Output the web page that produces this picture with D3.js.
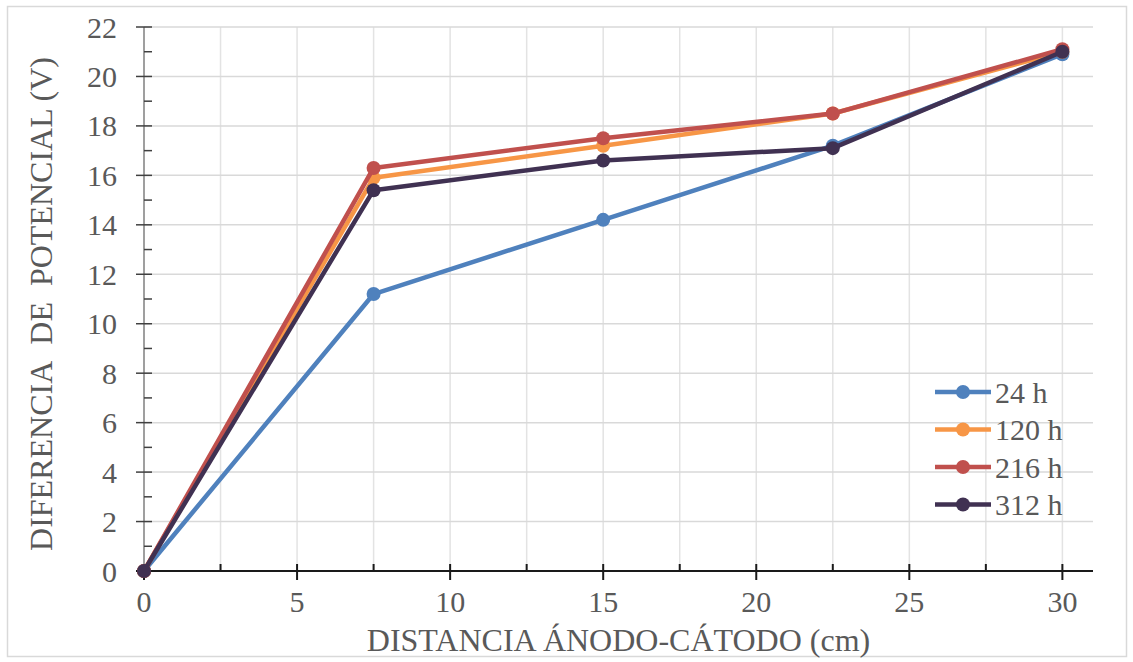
<!DOCTYPE html>
<html>
<head>
<meta charset="utf-8">
<script src="https://cdn.jsdelivr.net/npm/d3@7"></script>
<style>
  html, body { margin: 0; padding: 0; background: #fff; }
  svg { display: block; }
  text { font-family: "Liberation Serif", "Times New Roman", serif; fill: #595959; }
</style>
</head>
<body>
<svg id="chart" width="1133" height="662"></svg>
<script>
// ---- data ----
const distances = [0, 7.5, 15, 22.5, 30];
const seriesNames = ["24 h", "120 h", "216 h", "312 h"];
const v24 = [0, 11.2, 14.2, 17.2, 20.9];
const v120 = [0, 15.9, 17.2, 18.5, 21.0];
const v216 = [0, 16.3, 17.5, 18.5, 21.1];
const v312 = [0, 15.4, 16.6, 17.1, 21.0];
const colors = ["#4f81bd", "#f79646", "#c0504d", "#403152"];
const xTicks = [0, 5, 10, 15, 20, 25, 30];
const yTicks = [0, 2, 4, 6, 8, 10, 12, 14, 16, 18, 20, 22];
const xTitle = "DISTANCIA ÁNODO-CÁTODO (cm)";
const yTitle = "DIFERENCIA\u00a0\u00a0DE\u00a0\u00a0POTENCIAL (V)";

const series = [v24, v120, v216, v312].map((vals, i) => ({
  name: seriesNames[i], color: colors[i],
  pts: distances.map((d, j) => [d, vals[j]])
}));

const svg = d3.select("#chart");
const W = 1133, H = 662;
const m = { left: 144, right: 40, top: 27, bottom: 91 };

// outer border
svg.append("rect").attr("x", 7.5).attr("y", 6.5).attr("width", W - 14).attr("height", H - 12)
  .attr("fill", "#fff").attr("stroke", "#d9d9d9").attr("stroke-width", 1.5);

const x = d3.scaleLinear().domain([0, 31]).range([m.left, W - m.right]);
const y = d3.scaleLinear().domain([0, 22]).range([H - m.bottom, m.top]);

// gridlines
const vGrid = d3.range(2.5, 30.01, 2.5);
svg.append("g").selectAll("line").data(vGrid).join("line")
  .attr("x1", d => x(d)).attr("x2", d => x(d))
  .attr("y1", y(0)).attr("y2", y(22))
  .attr("stroke", "#e3e3e3").attr("stroke-width", 1.5);
svg.append("g").selectAll("line").data(yTicks.filter(d => d > 0)).join("line")
  .attr("x1", x(0)).attr("x2", x(31))
  .attr("y1", d => y(d)).attr("y2", d => y(d))
  .attr("stroke", "#d9d9d9").attr("stroke-width", 1.5);

// y axis
const yAxisG = svg.append("g");
yAxisG.append("line").attr("x1", x(0)).attr("x2", x(0)).attr("y1", y(0)).attr("y2", y(22))
  .attr("stroke", "#7f7f7f").attr("stroke-width", 1.5);
yAxisG.selectAll("line.maj").data(yTicks).join("line").attr("class", "maj")
  .attr("x1", x(0) - 8).attr("x2", x(0) + 8)
  .attr("y1", d => y(d)).attr("y2", d => y(d))
  .attr("stroke", "#404040").attr("stroke-width", 1.5);
yAxisG.selectAll("line.min").data(d3.range(1, 22, 2)).join("line").attr("class", "min")
  .attr("x1", x(0)).attr("x2", x(0) + 8)
  .attr("y1", d => y(d)).attr("y2", d => y(d))
  .attr("stroke", "#404040").attr("stroke-width", 1.5);
yAxisG.selectAll("text").data(yTicks).join("text")
  .attr("x", 117).attr("y", d => y(d)).attr("dy", "0.35em")
  .attr("text-anchor", "end").attr("font-size", 30)
  .text(d => d);

// x axis
const xAxisG = svg.append("g");
xAxisG.append("line").attr("x1", x(0) - 8).attr("x2", x(31)).attr("y1", y(0)).attr("y2", y(0))
  .attr("stroke", "#1a1a1a").attr("stroke-width", 2);
xAxisG.selectAll("line.maj").data(xTicks).join("line").attr("class", "maj")
  .attr("x1", d => x(d)).attr("x2", d => x(d))
  .attr("y1", y(0) - 7).attr("y2", y(0) + 9)
  .attr("stroke", "#1a1a1a").attr("stroke-width", 2);
xAxisG.selectAll("line.min").data(d3.range(2.5, 30, 5)).join("line").attr("class", "min")
  .attr("x1", d => x(d)).attr("x2", d => x(d))
  .attr("y1", y(0) - 7).attr("y2", y(0))
  .attr("stroke", "#1a1a1a").attr("stroke-width", 2);
xAxisG.selectAll("text").data(xTicks).join("text")
  .attr("x", d => x(d)).attr("y", 612)
  .attr("text-anchor", "middle").attr("font-size", 30)
  .text(d => d);

// axis titles
svg.append("text").attr("x", (x(0) + x(31)) / 2).attr("y", 651)
  .attr("text-anchor", "middle").attr("font-size", 32).text(xTitle);
svg.append("text").attr("transform", `translate(52, 304) rotate(-90)`)
  .attr("text-anchor", "middle").attr("font-size", 32).text(yTitle);

// series
const line = d3.line().x(d => x(d[0])).y(d => y(d[1]));
const sg = svg.append("g").selectAll("g").data(series).join("g");
sg.append("path").attr("d", d => line(d.pts)).attr("fill", "none")
  .attr("stroke", d => d.color).attr("stroke-width", 4.5).attr("stroke-linejoin", "round").attr("stroke-linecap", "round");
sg.selectAll("circle").data(d => d.pts.map(p => ({ p, c: d.color }))).join("circle")
  .attr("cx", d => x(d.p[0])).attr("cy", d => y(d.p[1])).attr("r", 7)
  .attr("fill", d => d.c);

// legend
const lg = svg.append("g").selectAll("g").data(series).join("g")
  .attr("transform", (d, i) => `translate(935, ${392 + i * 37.5})`);
lg.append("line").attr("x1", 0).attr("x2", 56).attr("y1", 0).attr("y2", 0)
  .attr("stroke", d => d.color).attr("stroke-width", 4.5);
lg.append("circle").attr("cx", 28).attr("cy", 0).attr("r", 7).attr("fill", d => d.color);
lg.append("text").attr("x", 60).attr("y", 0).attr("dy", "0.35em").attr("font-size", 30)
  .text(d => d.name);
</script>
</body>
</html>
